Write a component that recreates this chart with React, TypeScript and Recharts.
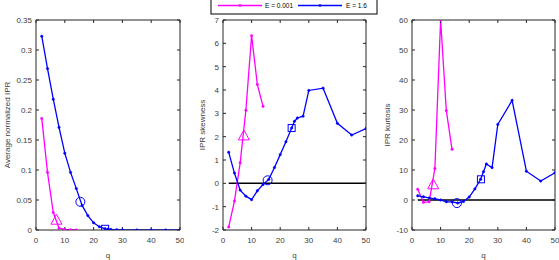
import { ComposedChart, Line, Scatter, XAxis, YAxis, ReferenceLine } from "recharts"

// Three-panel IPR statistics vs q, two energies.
const AXIS = "#262626"
const TEXT = "#404040"
const MAGENTA = "#ff00ff"
const BLUE = "#0000ff"

const qHigh = [2, 4, 6, 8, 10, 12, 14, 16, 18, 20, 22, 24, 25, 26, 28, 30, 35, 40, 45, 50]
const qLow = [2, 4, 6, 8, 10, 12, 14]

const iprHigh = [0.323, 0.269, 0.218, 0.171, 0.128, 0.096, 0.069, 0.041, 0.024, 0.012, 0.0055, 0.002, 0.0015, 0.001, 0.0005, 0.0002, 0, 0, 0, 0]
const iprLow = [0.186, 0.096, 0.029, 0.003, 0.001, 0.0003, 0.0001]

const skewHigh = [1.33, 0.44, -0.29, -0.55, -0.7, -0.32, -0.05, 0.17, 0.68, 1.23, 1.78, 2.37, 2.66, 2.8, 2.88, 3.98, 4.08, 2.57, 2.07, 2.35]
const skewLow = [-1.87, -0.76, 0.88, 3.13, 6.33, 4.24, 3.3]

const kurtHigh = [1.4, 1.07, 0.7, 0.4, 0, -0.6, -0.6, -1.0, -0.5, 1.0, 3.7, 6.9, 9.4, 12.0, 10.8, 25.2, 33.2, 9.6, 6.3, 9.1]
const kurtLow = [3.6, -0.8, -0.6, 10.5, 60, 29.8, 16.9]

// special markers: [ipr, skewness, kurtosis]
const triangleQ = [7.1, 7.3, 7.4]
const triangleVal = [0.017, 2.05, 5.2]
const circleQ = [15.4, 15.6, 15.7]
const circleVal = [0.047, 0.13, -1.03]
const squareQ = [24, 24, 24.1]
const squareVal = [0.002, 2.37, 6.9]

const xTicks = [0, 10, 20, 30, 40, 50]
const iprTicks = [0, 0.05, 0.1, 0.15, 0.2, 0.25, 0.3, 0.35]
const skewTicks = [-2, -1, 0, 1, 2, 3, 4, 5, 6, 7]
const kurtTicks = [-10, 0, 10, 20, 30, 40, 50, 60]

const toRows = (qs: number[], vs: number[]) => qs.map((q, i) => ({ q, v: vs[i] }))

const tickStyle = { fontSize: 8, fill: TEXT }
const noLabel = () => <g />

function Triangle(props: any) {
  const { cx, cy } = props
  const s = 5.5
  return (
    <polygon
      points={`${cx},${cy - s} ${cx - s},${cy + s * 0.8} ${cx + s},${cy + s * 0.8}`}
      fill="none"
      stroke={MAGENTA}
      strokeWidth={1}
    />
  )
}

function Circ(props: any) {
  return <circle cx={props.cx} cy={props.cy} r={4.5} fill="none" stroke={BLUE} strokeWidth={1} />
}

function Square(props: any) {
  return (
    <rect x={props.cx - 3.5} y={props.cy - 3.5} width={7} height={7} fill="none" stroke={BLUE} strokeWidth={1} />
  )
}

type PanelProps = {
  left: number
  width: number
  yWidth: number
  label: string
  labelX: number
  domain: [number, number]
  ticks: number[]
  high: number[]
  low: number[]
  idx: number
  zero?: boolean
}

function Panel({ left, width, yWidth, label, labelX, domain, ticks, high, low, idx, zero }: PanelProps) {
  const highRows = toRows(qHigh, high)
  return (
    <div style={{ position: "absolute", left, top: 0 }}>
      <ComposedChart width={width} height={260} margin={{ top: 19, right: 3, bottom: 0, left: 0 }}>
        <XAxis
          dataKey="q"
          type="number"
          domain={[0, 50]}
          ticks={xTicks}
          tick={tickStyle}
          tickSize={-3}
          tickMargin={10}
          stroke={AXIS}
          height={30}
          allowDataOverflow
          label={{ value: "q", position: "insideBottom", offset: 2, fontSize: 8, fill: TEXT }}
        />
        <XAxis
          xAxisId="top"
          dataKey="q"
          orientation="top"
          type="number"
          domain={[0, 50]}
          ticks={xTicks}
          tick={noLabel}
          tickSize={-3}
          stroke={AXIS}
          height={1}
          allowDataOverflow
        />
        <YAxis
          type="number"
          domain={domain}
          ticks={ticks}
          tick={tickStyle}
          tickSize={-3}
          tickMargin={7}
          stroke={AXIS}
          width={yWidth}
          allowDataOverflow
          label={({ viewBox }: any) => (
            <text
              x={labelX}
              y={viewBox.y + viewBox.height / 2}
              transform={`rotate(-90 ${labelX} ${viewBox.y + viewBox.height / 2})`}
              textAnchor="middle"
              dominantBaseline="central"
              fontSize={8}
              fill={TEXT}
            >
              {label}
            </text>
          )}
        />
        <YAxis
          yAxisId="right"
          orientation="right"
          type="number"
          domain={domain}
          ticks={ticks}
          tick={noLabel}
          tickSize={-3}
          stroke={AXIS}
          width={1}
          allowDataOverflow
        />
        {/* invisible copy so the mirrored box axes get a scale */}
        <Line
          xAxisId="top"
          yAxisId="right"
          data={highRows}
          dataKey="v"
          stroke="none"
          dot={false}
          activeDot={false}
          isAnimationActive={false}
        />
        {zero && (
          <ReferenceLine segment={[{ x: 2, y: 0 }, { x: 50, y: 0 }]} stroke="#000" strokeWidth={1.5} ifOverflow="visible" />
        )}
        <Line
          data={toRows(qLow, low)}
          dataKey="v"
          stroke={MAGENTA}
          strokeWidth={1.3}
          dot={{ r: 1.2, fill: MAGENTA, stroke: MAGENTA, strokeWidth: 0.5 }}
          isAnimationActive={false}
        />
        <Line
          data={highRows}
          dataKey="v"
          stroke={BLUE}
          strokeWidth={1.3}
          dot={{ r: 1.2, fill: BLUE, stroke: BLUE, strokeWidth: 0.5 }}
          isAnimationActive={false}
        />
        <Scatter data={[{ q: triangleQ[idx], v: triangleVal[idx] }]} dataKey="v" shape={Triangle} isAnimationActive={false} />
        <Scatter data={[{ q: circleQ[idx], v: circleVal[idx] }]} dataKey="v" shape={Circ} isAnimationActive={false} />
        <Scatter data={[{ q: squareQ[idx], v: squareVal[idx] }]} dataKey="v" shape={Square} isAnimationActive={false} />
      </ComposedChart>
    </div>
  )
}

function LegendBox() {
  return (
    <svg width={559} height={20} style={{ position: "absolute", left: 0, top: 0 }}>
      <rect x={211} y={-1} width={166} height={15} fill="#fff" stroke="#000" strokeWidth={1} />
      <line x1={218} y1={5.5} x2={262} y2={5.5} stroke={MAGENTA} strokeWidth={1.3} />
      <circle cx={240} cy={5.5} r={1.3} fill={MAGENTA} />
      <text x={265} y={5.5} dominantBaseline="central" fontSize={6.5} fill="#000">E = 0.001</text>
      <line x1={298} y1={5.5} x2={342} y2={5.5} stroke={BLUE} strokeWidth={1.3} />
      <circle cx={320} cy={5.5} r={1.3} fill={BLUE} />
      <text x={346} y={5.5} dominantBaseline="central" fontSize={6.5} fill="#000">E = 1.6</text>
    </svg>
  )
}

export default function App() {
  return (
    <div
      style={{
        position: "absolute",
        left: 0,
        top: 0,
        width: 559,
        height: 260,
        background: "#fff",
        fontFamily: "'Liberation Sans', Arial, sans-serif",
      }}
    >
      <Panel left={0} width={184} yWidth={36} label="Average normalized IPR" labelX={7} domain={[0, 0.35]} ticks={iprTicks} high={iprHigh} low={iprLow} idx={0} />
      <Panel left={185} width={185} yWidth={38} label="IPR skewness" labelX={17} domain={[-2, 7]} ticks={skewTicks} high={skewHigh} low={skewLow} idx={1} zero />
      <Panel left={375} width={184} yWidth={37} label="IPR kurtosis" labelX={12} domain={[-10, 60]} ticks={kurtTicks} high={kurtHigh} low={kurtLow} idx={2} zero />
      <LegendBox />
    </div>
  )
}
